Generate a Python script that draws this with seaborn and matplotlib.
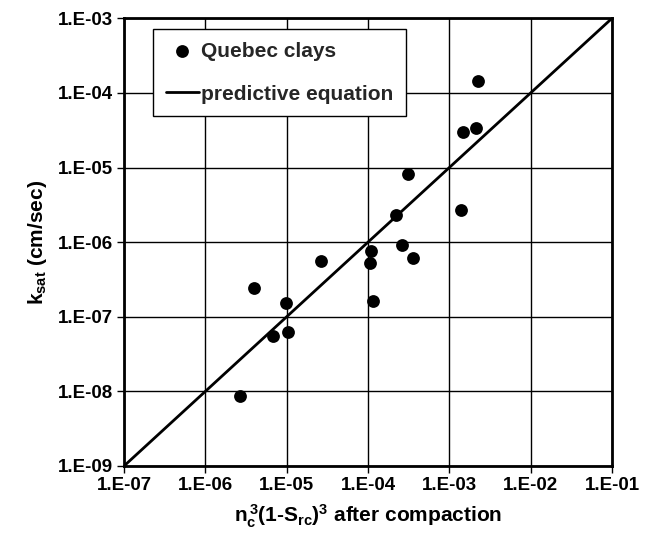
import matplotlib
matplotlib.use("Agg")
import matplotlib.pyplot as plt
import seaborn as sns
import pandas as pd
import numpy as np
from matplotlib.ticker import FixedFormatter, FixedLocator

sns.set_theme(style="white")
plt.rcParams['font.family'] = ['Liberation Sans', 'DejaVu Sans']
plt.rcParams['font.weight'] = 'bold'
plt.rcParams['mathtext.fontset'] = 'custom'
plt.rcParams['mathtext.rm'] = 'Liberation Sans:bold'
plt.rcParams['mathtext.it'] = 'Liberation Sans:bold'
plt.rcParams['mathtext.bf'] = 'Liberation Sans:bold'

# data (log10 values)
quebec_x_log = [-2.643, -2.836, -2.676, -3.504, -2.857, -3.656, -3.586, -3.963, -3.443,
                -3.975, -4.578, -5.406, -5.008, -3.934, -5.168, -4.984, -5.578]
quebec_y_log = [-3.839, -4.518, -4.473, -5.089, -5.567, -5.634, -6.040, -6.112, -6.214,
                -6.281, -6.259, -6.616, -6.817, -6.795, -7.254, -7.205, -8.067]
line_x = [1e-7, 1e-1]
line_y = [1e-9, 1e-3]
x_ticks = [1e-7, 1e-6, 1e-5, 1e-4, 1e-3, 1e-2, 1e-1]
x_labels = ["1.E-07", "1.E-06", "1.E-05", "1.E-04", "1.E-03", "1.E-02", "1.E-01"]
y_ticks = [1e-9, 1e-8, 1e-7, 1e-6, 1e-5, 1e-4, 1e-3]
y_labels = ["1.E-09", "1.E-08", "1.E-07", "1.E-06", "1.E-05", "1.E-04", "1.E-03"]

df = pd.DataFrame({"x": 10 ** np.array(quebec_x_log), "y": 10 ** np.array(quebec_y_log)})
ldf = pd.DataFrame({"x": line_x, "y": line_y})

fig = plt.figure(figsize=(6.58, 5.43), dpi=100)
ax = fig.add_axes([124 / 658, 77 / 543, (612 - 124) / 658, (466 - 18.3) / 543])

sns.scatterplot(data=df, x="x", y="y", ax=ax, color="black", s=85, edgecolor="black",
                linewidth=0, label="Quebec clays", zorder=4)
sns.lineplot(data=ldf, x="x", y="y", ax=ax, color="black", linewidth=2,
             label="predictive equation", zorder=3)

ax.set_xscale("log")
ax.set_yscale("log")
ax.set_xlim(1e-7, 1e-1)
ax.set_ylim(1e-9, 1e-3)
ax.xaxis.set_major_locator(FixedLocator(x_ticks))
ax.xaxis.set_major_formatter(FixedFormatter(x_labels))
ax.yaxis.set_major_locator(FixedLocator(y_ticks))
ax.yaxis.set_major_formatter(FixedFormatter(y_labels))
ax.xaxis.set_minor_locator(FixedLocator([]))
ax.yaxis.set_minor_locator(FixedLocator([]))

ax.grid(True, which="major", color="black", linewidth=1)
for s in ax.spines.values():
    s.set_color("black")
    s.set_linewidth(2)
ax.tick_params(axis="both", which="major", direction="out", length=5, width=1,
               color="black", labelsize=13.5, labelcolor="black", bottom=True, left=True, pad=3)
for lab in ax.get_xticklabels() + ax.get_yticklabels():
    lab.set_fontweight("bold")

ax.set_xlabel(r"$\mathrm{n_c^{\,3}(1\text{-}S_{rc})^3}$ after compaction", fontsize=15,
              fontweight="bold", color="black", labelpad=6)
ax.set_ylabel(r"$\mathrm{k_{sat}}$ (cm/sec)", fontsize=15, fontweight="bold",
              color="black", labelpad=6)

leg = ax.legend(loc="upper left", bbox_to_anchor=((153 - 124) / 488, 1 - (29.3 - 18.3) / 447.7),
                frameon=True, fancybox=False, edgecolor="black", framealpha=1,
                prop={"size": 15, "weight": "bold"}, handlelength=1.6, borderpad=0.6,
                labelspacing=1.15, handletextpad=0.1, borderaxespad=0, markerscale=1.0)
leg.get_frame().set_linewidth(1)

fig.savefig("out.png", dpi=100)
